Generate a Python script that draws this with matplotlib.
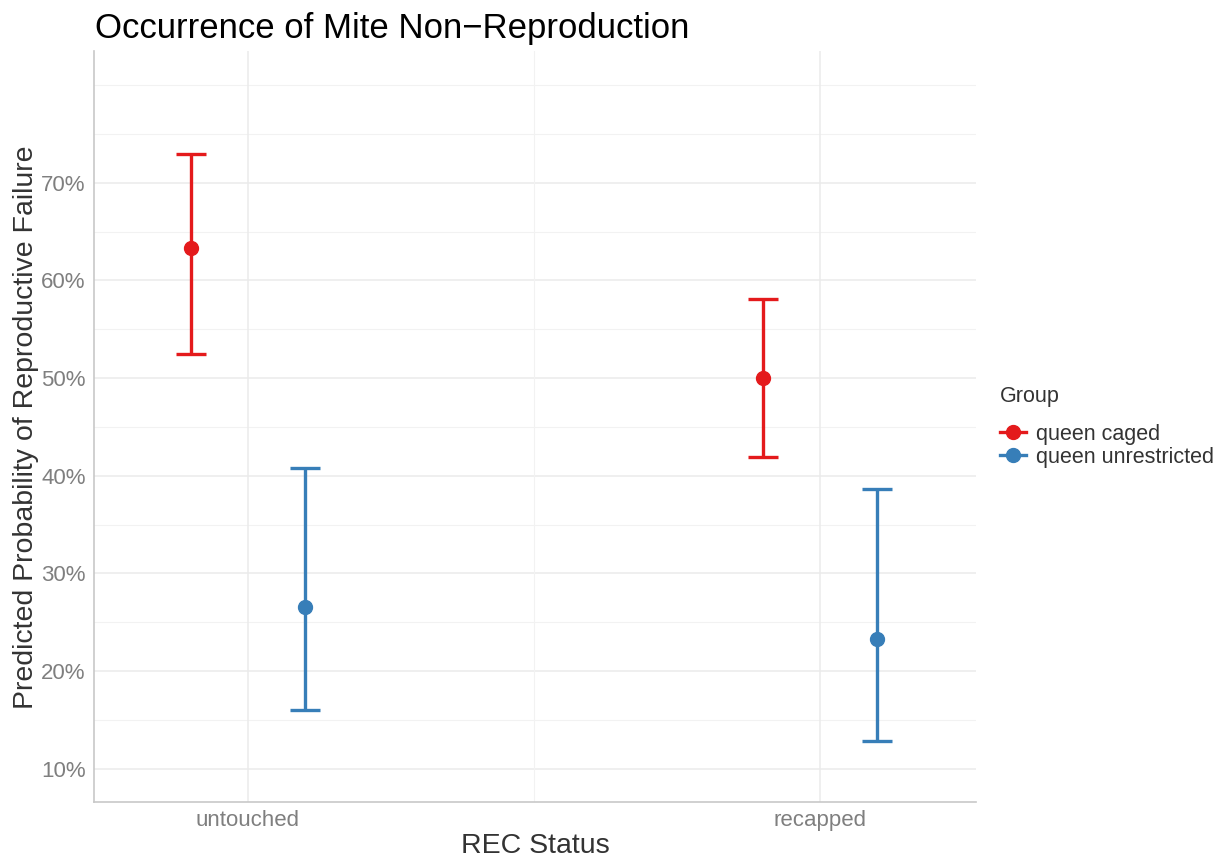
import matplotlib
matplotlib.use("Agg")
from matplotlib import pyplot as plt
from matplotlib.lines import Line2D
import numpy as np

plt.rcParams['font.family'] = ['Liberation Sans', 'DejaVu Sans']

# data (probabilities in %)
categories = ["untouched", "recapped"]
groups = ["queen caged", "queen unrestricted"]
colors = ["#E41A1C", "#377EB8"]
caged_mean = [63.3, 50.0]
caged_low = [52.5, 41.9]
caged_high = [73.0, 58.1]
unres_mean = [26.6, 23.3]
unres_low = [16.0, 12.8]
unres_high = [40.8, 38.7]

means = [caged_mean, unres_mean]
lows = [caged_low, unres_low]
highs = [caged_high, unres_high]
offsets = [-0.1, 0.1]

fig = plt.figure(figsize=(12.23, 8.58), dpi=100)
ax = fig.add_axes([94 / 1223, 56 / 858, 882 / 1223, 751 / 858])

x = np.arange(1, len(categories) + 1)
for g in range(len(groups)):
    m = np.array(means[g])
    lo = np.array(lows[g])
    hi = np.array(highs[g])
    ax.errorbar(x + offsets[g], m, yerr=[m - lo, hi - m], fmt='o',
                color=colors[g], ecolor=colors[g], elinewidth=2.4,
                capsize=11, capthick=2.4, markersize=10, zorder=3)

ax.set_xlim(0.731, 2.273)
ax.set_ylim(6.6, 83.5)

# grid like theme_minimal
for yv in np.arange(10, 71, 10):
    ax.axhline(yv, color="#EBEBEB", lw=1.1, zorder=0)
for yv in np.arange(15, 81, 10):
    ax.axhline(yv, color="#F2F2F2", lw=0.8, zorder=0)
ax.axhline(80, color="#F2F2F2", lw=0.8, zorder=0)
for xv in x:
    ax.axvline(xv, color="#EBEBEB", lw=1.1, zorder=0)
ax.axvline(1.5, color="#F2F2F2", lw=0.8, zorder=0)

ax.set_yticks(np.arange(10, 71, 10))
ax.set_yticklabels([f"{v}%" for v in range(10, 71, 10)])
ax.set_xticks(x)
ax.set_xticklabels(categories)
ax.tick_params(length=0, labelsize=16, labelcolor="#7F7F7F", pad=6)

for s in ["top", "right"]:
    ax.spines[s].set_visible(False)
for s in ["left", "bottom"]:
    ax.spines[s].set_color("#C8C8C8")
    ax.spines[s].set_linewidth(1.2)

# axis titles placed like the reference
fig.text(535 / 1223, 1 - 846 / 858, "REC Status", fontsize=20.5,
         color="#333333", ha="center", va="center")
fig.text(26 / 1223, 1 - 427 / 858, "Predicted Probability of Reproductive Failure",
         fontsize=20.5, color="#333333", ha="center", va="center", rotation=90)

fig.text(95 / 1223, 1 - 38 / 858, "Occurrence of Mite Non\u2212Reproduction",
         fontsize=25, color="black", ha="left", va="baseline")

handles = [Line2D([0], [0], color=c, marker='o', markersize=10, lw=2.4)
           for c in colors]
fig.legend(handles, groups, title="Group", loc="upper left",
           bbox_to_anchor=(1000 / 1223, 1 - 386 / 858), frameon=False,
           borderpad=0, borderaxespad=0,
           fontsize=15.5, title_fontsize=15.5, handlelength=1.2,
           handletextpad=0.45, labelspacing=0.1, alignment="left",
           labelcolor="#333333")
leg = fig.legends[0]
leg.get_title().set_color("#333333")
leg._legend_box.sep = 12

plt.savefig("out.png", dpi=100)
plt.close()
